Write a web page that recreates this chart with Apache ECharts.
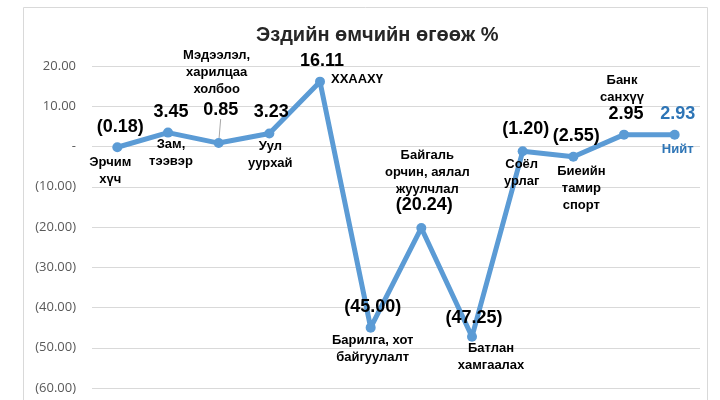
<!DOCTYPE html>
<html>
<head>
<meta charset="utf-8">
<script src="https://cdn.jsdelivr.net/npm/echarts@6/dist/echarts.min.js"></script>
<style>
  html, body { margin: 0; padding: 0; background: #fff; }
  #chart { width: 720px; height: 400px; }
</style>
</head>
<body>
<div id="chart"></div>
<script>
// салбарууд
var categories = ['Эрчим хүч', 'Зам, тээвэр', 'Мэдээлэл, харилцаа холбоо', 'Уул уурхай', 'ХХААХҮ',
  'Барилга, хот байгуулалт', 'Байгаль орчин, аялал жуулчлал', 'Батлан хамгаалах', 'Соёл урлаг',
  'Биеийн тамир спорт', 'Банк санхүү', 'Нийт'];
// хаягт харагдах мөр хуваалт
var nameLabels = ['Эрчим\nхүч', 'Зам,\nтээвэр', 'Мэдээлэл,\nхарилцаа\nхолбоо', 'Уул\nуурхай', 'ХХААХҮ',
  'Барилга, хот\nбайгуулалт', 'Байгаль\nорчин, аялал\nжуулчлал', 'Батлан\nхамгаалах', 'Соёл\nурлаг',
  'Биеийн\nтамир\nспорт', 'Банк\nсанхүү', 'Нийт'];
var values = [-0.18, 3.45, 0.85, 3.23, 16.11, -45.00, -20.24, -47.25, -1.20, -2.55, 2.95, 2.93];
var yTicks = [20, 10, 0, -10, -20, -30, -40, -50, -60];

// label offsets (px) from each point
var valueOffsets = [[3,-20],[3,-21],[2,-33],[2,-21],[2,-21],[2,-21],[3,-23],[2,-19],[3,-22],[3,-21],[2,-21],[3,-21]];
var nameOffsets = [[-7,24],[3,20],[-2,-71],[1,21],[37,-2],[2,21],[6,-56],[19,20],[-1,22],[8,32],[-2,-46],[3,15]];

function fmt(v) {
  if (v === 0) return '-';
  var s = Math.abs(v).toFixed(2);
  return v < 0 ? '(' + s + ')' : s;
}

var myChart = echarts.init(document.getElementById('chart'));
var lastIdx = values.length - 1;

var valueData = values.map(function (v, i) {
  var d = {
    value: v,
    label: { offset: valueOffsets[i] }
  };
  if (i === lastIdx) d.label.color = '#2E75B6';
  // Мэдээлэл - хөтлөгч шугамтай
  if (i === 2) d.labelLine = { show: true, lineStyle: { color: '#A6A6A6', width: 1 } };
  return d;
});
var nameData = values.map(function (v, i) {
  var d = {
    value: v,
    label: { offset: nameOffsets[i], formatter: nameLabels[i] }
  };
  if (i === lastIdx) d.label.color = '#2E75B6';
  return d;
});

var option = {
  animation: false,
  title: {
    text: 'Эздийн өмчийн өгөөж %',
    left: 251,
    top: 20,
    textStyle: { fontFamily: 'Liberation Sans', fontSize: 20, fontWeight: 'bold', color: '#262626' }
  },
  graphic: [{
    type: 'rect',
    shape: { x: 23.5, y: 7.5, width: 684, height: 400 },
    style: { fill: 'none', stroke: '#D9D9D9', lineWidth: 1 },
    silent: true
  }],
  grid: { left: 92, right: 20, top: 66, bottom: 12 },
  xAxis: {
    type: 'category',
    data: categories,
    boundaryGap: true,
    axisLine: { show: false },
    axisTick: { show: false },
    axisLabel: { show: false },
    splitLine: { show: false }
  },
  yAxis: {
    type: 'value',
    min: yTicks[yTicks.length - 1],
    max: yTicks[0],
    interval: 10,
    axisLine: { show: false },
    axisTick: { show: false },
    splitLine: { lineStyle: { color: '#D9D9D9', width: 1 } },
    axisLabel: {
      margin: 16,
      color: '#595959',
      fontFamily: 'Open Sans',
      fontSize: 13,
      formatter: function (v) { return fmt(v); }
    }
  },
  series: [
    {
      name: 'values',
      type: 'line',
      data: valueData,
      symbol: 'circle',
      symbolSize: 10,
      lineStyle: { color: '#5B9BD5', width: 5 },
      itemStyle: { color: '#5B9BD5' },
      label: {
        show: true,
        position: 'inside',
        fontFamily: 'Liberation Sans',
        fontWeight: 'bold',
        fontSize: 18,
        color: '#000',
        formatter: function (p) { return fmt(p.value); }
      },
      z: 3
    },
    {
      name: 'names',
      type: 'line',
      data: nameData,
      symbol: 'circle',
      symbolSize: 1,
      lineStyle: { opacity: 0, width: 0 },
      itemStyle: { color: 'rgba(0,0,0,0)' },
      silent: true,
      label: {
        show: true,
        position: 'inside',
        fontFamily: 'Liberation Sans',
        fontWeight: 'bold',
        fontSize: 13,
        lineHeight: 17,
        align: 'center',
        color: '#000'
      },
      z: 4
    }
  ]
};

myChart.setOption(option);
</script>
</body>
</html>
